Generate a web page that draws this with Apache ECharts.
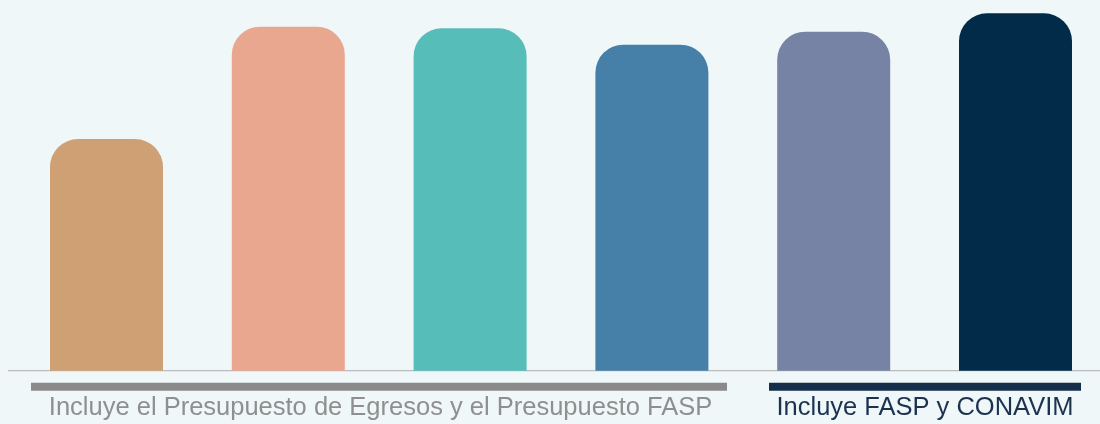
<!DOCTYPE html>
<html>
<head>
<meta charset="utf-8">
<script src="https://cdn.jsdelivr.net/npm/echarts@6/dist/echarts.min.js"></script>
<style>
  html, body { margin: 0; padding: 0; background: #eff7f9; }
  #chart { width: 1100px; height: 424px; }
</style>
</head>
<body>
<div id="chart"></div>
<script>
// Bar categories (axis labels are hidden)
const categories = ['1', '2', '3', '4', '5', '6'];
// Bar values
const values = [250.0, 371.2, 369.5, 351.8, 365.8, 385.7];
// One fill colour per bar
const barColors = ['#cfa074', '#e9a790', '#57bdb9', '#467fa7', '#7783a5', '#022b49'];
// Group captions under the axis
const groupLabels = ['Incluye el Presupuesto de Egresos y el Presupuesto FASP', 'Incluye FASP y CONAVIM'];

const chart = echarts.init(document.getElementById('chart'), null, { renderer: 'canvas' });

const option = {
  backgroundColor: '#eff7f9',
  animation: false,
  grid: { left: 15.6, width: 1090.8, top: 0, bottom: 53.3, outerBoundsMode: 'none', containLabel: false },
  xAxis: {
    type: 'category',
    data: categories,
    axisLine: { show: false },
    axisTick: { show: false },
    axisLabel: { show: false },
    splitLine: { show: false }
  },
  yAxis: {
    type: 'value',
    min: 0,
    max: 400,
    show: false,
    splitLine: { show: false }
  },
  series: [{
    type: 'bar',
    barWidth: 113,
    data: values.map((v, i) => ({
      value: v,
      itemStyle: { color: barColors[i], borderRadius: [28, 28, 0, 0] }
    }))
  }]
};
chart.setOption(option);

// Baseline, group brackets and captions
const baseY = chart.convertToPixel({ yAxisIndex: 0 }, 0);
const captionFont = '25.5px "Liberation Sans", Arial, sans-serif';
chart.setOption({
  graphic: [
    {
      type: 'line', silent: true,
      shape: { x1: 8, y1: baseY, x2: 1100, y2: baseY },
      style: { stroke: '#b9bdc0', lineWidth: 1.3 }
    },
    {
      type: 'rect', silent: true,
      shape: { x: 31, y: 382.7, width: 696, height: 8 },
      style: { fill: '#8a8a8a' }
    },
    {
      type: 'rect', silent: true,
      shape: { x: 769, y: 382.7, width: 312, height: 8 },
      style: { fill: '#152e4a' }
    },
    {
      type: 'text', silent: true,
      x: 380.5, y: 408,
      style: {
        text: groupLabels[0],
        fill: '#8f8f8f',
        font: captionFont,
        align: 'center', verticalAlign: 'middle'
      }
    },
    {
      type: 'text', silent: true,
      x: 925, y: 408,
      style: {
        text: groupLabels[1],
        fill: '#1c3350',
        font: captionFont,
        align: 'center', verticalAlign: 'middle'
      }
    }
  ]
});
</script>
</body>
</html>
